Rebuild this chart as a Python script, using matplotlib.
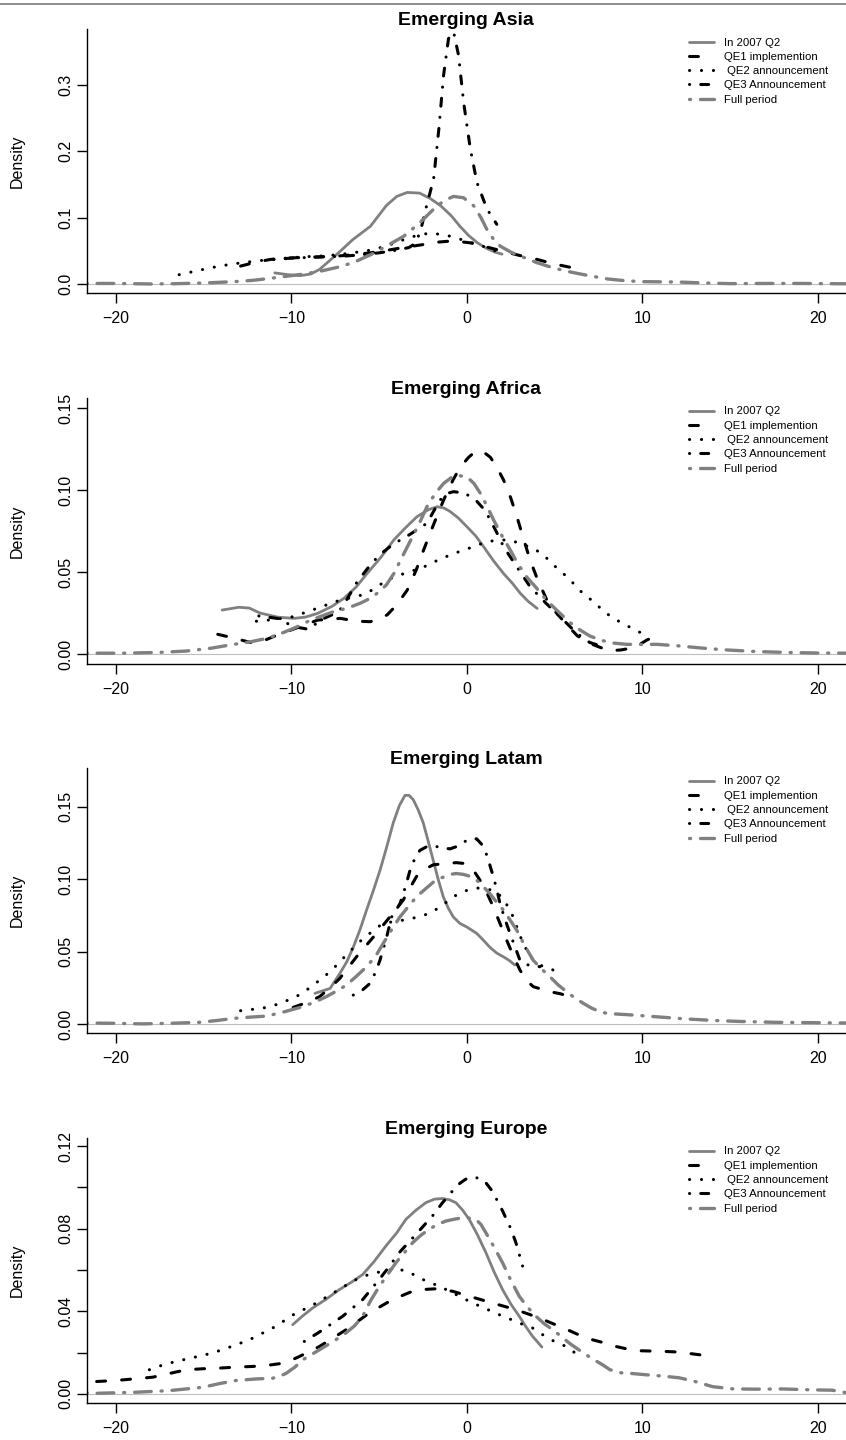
import matplotlib
matplotlib.use("Agg")
import matplotlib.pyplot as plt
from matplotlib.lines import Line2D

plt.rcParams["font.family"] = ["Liberation Sans", "DejaVu Sans"]
plt.rcParams["lines.scale_dashes"] = False

series_names = ["In 2007 Q2", "QE1 implemention", " QE2 announcement",
                "QE3 Announcement", "Full period"]

# --- Emerging Asia (x, density) ---
asia_q2 = [(-10.95, 0.0167), (-10.2, 0.0140), (-9.5, 0.0126), (-8.9, 0.0150), (-8.4, 0.022),
           (-7.4, 0.045), (-6.5, 0.067), (-5.5, 0.087), (-4.6, 0.118), (-4.0, 0.132),
           (-3.4, 0.138), (-2.7, 0.137), (-2.1, 0.129), (-1.5, 0.118), (-0.9, 0.103),
           (-0.4, 0.087), (0.1, 0.073), (0.6, 0.062), (1.1, 0.054), (1.6, 0.048), (2.0, 0.045)]
asia_qe1 = [(-12.9, 0.027), (-12.0, 0.033), (-11.2, 0.037), (-10.3, 0.039), (-9.3, 0.040),
            (-8.4, 0.041), (-7.4, 0.042), (-6.5, 0.044), (-5.5, 0.047), (-4.5, 0.051),
            (-3.6, 0.055), (-2.6, 0.059), (-1.7, 0.063), (-0.8, 0.065), (0.2, 0.062),
            (1.1, 0.056), (2.1, 0.049), (3.0, 0.043), (4.0, 0.037), (5.0, 0.030), (6.1, 0.024)]
asia_qe2 = [(-16.4, 0.014), (-15.2, 0.021), (-14.1, 0.027), (-13.1, 0.031), (-12.2, 0.034),
            (-11.2, 0.037), (-10.3, 0.039), (-9.3, 0.041), (-8.4, 0.042), (-7.4, 0.044),
            (-6.5, 0.047), (-5.5, 0.051), (-4.6, 0.057), (-3.8, 0.065), (-3.0, 0.072),
            (-2.1, 0.077), (-1.1, 0.073), (-0.2, 0.066), (0.9, 0.057), (1.9, 0.047)]
asia_qe3 = [(-11.0, 0.037), (-10.0, 0.039), (-9.0, 0.040), (-8.0, 0.041), (-7.0, 0.042),
            (-6.0, 0.044), (-5.0, 0.047), (-4.0, 0.051), (-3.3, 0.055), (-2.9, 0.062),
            (-2.6, 0.085), (-2.3, 0.118), (-1.9, 0.158), (-1.6, 0.234), (-1.33, 0.315),
            (-1.05, 0.370), (-0.76, 0.380), (-0.48, 0.345), (-0.19, 0.274), (0.19, 0.204),
            (0.57, 0.153), (1.14, 0.113), (1.7, 0.090)]
asia_full = [(-21.7, 0.0008), (-20.0, 0.0008), (-18.0, 0.0), (-16.5, 0.0005), (-15.0, 0.0015),
             (-14.1, 0.0025), (-13.1, 0.0038), (-12.2, 0.0055), (-11.2, 0.0085), (-10.3, 0.0116),
             (-9.3, 0.015), (-8.4, 0.019), (-7.4, 0.025), (-6.5, 0.032), (-5.5, 0.044),
             (-4.6, 0.057), (-3.6, 0.072), (-2.7, 0.092), (-1.7, 0.118), (-1.2, 0.127),
             (-0.76, 0.132), (-0.2, 0.130), (0.38, 0.118), (0.8, 0.100), (1.14, 0.082),
             (1.5, 0.068), (1.9, 0.057), (2.5, 0.048), (3.05, 0.042), (4.0, 0.032),
             (4.95, 0.024), (5.9, 0.018), (6.86, 0.013), (8.0, 0.0076), (9.0, 0.0050),
             (10.0, 0.0035), (12.0, 0.0030), (13.5, 0.0015), (15.0, 0.0005), (17.0, 0.0008),
             (19.0, 0.0008), (21.6, 0.0003)]

# --- Emerging Africa ---
africa_q2 = [(-13.95, 0.0268), (-13.0, 0.0285), (-12.4, 0.028), (-11.8, 0.025), (-10.8, 0.0225),
             (-9.87, 0.0217), (-9.2, 0.0225), (-8.5, 0.0248), (-7.7, 0.029), (-7.0, 0.034),
             (-6.3, 0.041), (-5.7, 0.049), (-4.9, 0.059), (-4.17, 0.0695), (-3.5, 0.077),
             (-2.85, 0.0837), (-2.2, 0.088), (-1.7, 0.0898), (-1.3, 0.089), (-0.95, 0.0868),
             (-0.5, 0.083), (0.0, 0.0776), (0.5, 0.072), (0.95, 0.0654), (1.5, 0.057),
             (2.09, 0.049), (2.6, 0.043), (3.04, 0.037), (3.5, 0.032), (4.0, 0.0278)]
africa_qe1 = [(-14.2, 0.012), (-13.2, 0.0095), (-12.3, 0.0069), (-11.5, 0.0085), (-10.8, 0.0116),
              (-9.5, 0.0167), (-8.5, 0.0207), (-7.2, 0.0217), (-6.3, 0.020), (-5.5, 0.0197),
              (-4.55, 0.0238), (-4.0, 0.030), (-3.4, 0.039), (-2.9, 0.051), (-2.47, 0.0634),
              (-1.9, 0.079), (-1.33, 0.0939), (-0.8, 0.106), (-0.38, 0.114), (0.1, 0.120),
              (0.47, 0.1234), (0.9, 0.1235), (1.33, 0.120), (1.7, 0.114), (2.09, 0.106),
              (2.5, 0.095), (2.85, 0.0837), (3.2, 0.071), (3.6, 0.0573), (4.0, 0.046),
              (4.55, 0.033), (5.1, 0.025), (5.7, 0.0177), (6.3, 0.011), (7.0, 0.0065),
              (7.6, 0.004), (8.16, 0.002), (8.8, 0.0025), (9.3, 0.0035), (9.8, 0.0055),
              (10.25, 0.0085), (11.05, 0.0125)]
africa_qe2 = [(-12.0, 0.020), (-11.0, 0.021), (-9.87, 0.0228), (-9.3, 0.025), (-8.5, 0.028),
              (-7.2, 0.033), (-6.3, 0.035), (-5.7, 0.037), (-5.0, 0.042), (-4.17, 0.047),
              (-3.3, 0.050), (-2.47, 0.053), (-1.7, 0.057), (-1.04, 0.060), (-0.3, 0.063),
              (0.38, 0.0654), (1.0, 0.068), (1.7, 0.0695), (2.47, 0.0695), (3.1, 0.067),
              (3.8, 0.0644), (4.4, 0.060), (4.93, 0.0543), (5.5, 0.049), (6.07, 0.043),
              (6.6, 0.037), (7.2, 0.032), (7.8, 0.026), (8.35, 0.0217), (9.0, 0.018),
              (9.58, 0.0146), (9.9, 0.013)]
africa_qe3 = [(-11.86, 0.0232), (-10.8, 0.0217), (-9.87, 0.0167), (-9.0, 0.015), (-8.35, 0.0207),
              (-7.3, 0.0258), (-6.8, 0.034), (-6.26, 0.044), (-5.6, 0.053), (-5.03, 0.060),
              (-4.2, 0.067), (-3.3, 0.0726), (-2.8, 0.076), (-2.28, 0.0797), (-1.9, 0.087),
              (-1.52, 0.094), (-1.1, 0.098), (-0.76, 0.099), (-0.1, 0.098), (0.57, 0.093),
              (1.0, 0.088), (1.33, 0.0817), (1.7, 0.074), (2.09, 0.0654), (2.85, 0.053),
              (3.6, 0.041), (4.5, 0.031), (5.3, 0.0228), (6.26, 0.0126), (7.0, 0.007),
              (7.6, 0.005)]
africa_full = [(-21.7, 0.0005), (-19.5, 0.0005), (-17.5, 0.001), (-16.0, 0.0018), (-14.6, 0.0035),
               (-13.5, 0.0055), (-12.3, 0.0075), (-11.5, 0.0093), (-10.8, 0.0116), (-9.8, 0.016),
               (-8.9, 0.0207), (-7.6, 0.0258), (-6.8, 0.028), (-6.07, 0.031), (-5.5, 0.034),
               (-5.12, 0.037), (-4.6, 0.042), (-4.17, 0.049), (-3.7, 0.059), (-3.2, 0.0695),
               (-2.7, 0.080), (-2.28, 0.0898), (-1.8, 0.098), (-1.33, 0.104), (-0.9, 0.1075),
               (-0.57, 0.109), (0.0, 0.108), (0.4, 0.104), (0.76, 0.098), (1.15, 0.090),
               (1.52, 0.0817), (2.0, 0.072), (2.47, 0.0634), (2.9, 0.055), (3.4, 0.047),
               (3.9, 0.041), (4.36, 0.035), (4.8, 0.030), (5.3, 0.0248), (5.9, 0.019),
               (6.45, 0.0146), (7.0, 0.011), (7.6, 0.0085), (8.3, 0.0067), (9.1, 0.0059),
               (10.0, 0.0058), (10.8, 0.0059), (12.0, 0.005), (13.5, 0.0035), (14.9, 0.0024),
               (16.5, 0.0015), (18.0, 0.001), (20.0, 0.0006), (21.6, 0.0005)]

# --- Emerging Latam ---
latam_q2 = [(-8.66, 0.0212), (-7.8, 0.0246), (-7.24, 0.035), (-6.85, 0.043), (-6.48, 0.053),
            (-6.1, 0.065), (-5.72, 0.0788), (-5.34, 0.092), (-4.96, 0.106), (-4.58, 0.122),
            (-4.2, 0.139), (-3.85, 0.151), (-3.53, 0.158), (-3.3, 0.158), (-3.06, 0.155),
            (-2.78, 0.148), (-2.49, 0.139), (-2.2, 0.126), (-1.92, 0.113), (-1.64, 0.100),
            (-1.35, 0.088), (-1.06, 0.080), (-0.78, 0.074), (-0.4, 0.0695), (0.0, 0.067),
            (0.55, 0.0627), (0.93, 0.058), (1.31, 0.053), (1.7, 0.049), (2.07, 0.0465),
            (2.4, 0.044), (2.73, 0.0408)]
latam_qe1 = [(-9.9, 0.0115), (-9.1, 0.015), (-8.4, 0.0189), (-7.8, 0.025), (-7.24, 0.0316),
             (-6.29, 0.0465), (-5.34, 0.060), (-4.39, 0.074), (-3.63, 0.0857), (-3.25, 0.094),
             (-2.87, 0.102), (-2.4, 0.107), (-1.92, 0.110), (-1.16, 0.111), (-0.6, 0.1115),
             (-0.21, 0.111), (0.36, 0.1064), (0.93, 0.096), (1.5, 0.081), (1.9, 0.069),
             (2.26, 0.058), (2.65, 0.047), (3.02, 0.0373), (3.4, 0.030), (3.78, 0.0258),
             (4.73, 0.0223), (5.3, 0.021), (5.87, 0.0189), (6.2, 0.018)]
latam_qe2 = [(-12.9, 0.0092), (-12.1, 0.0103), (-11.4, 0.0115), (-10.7, 0.014), (-10.1, 0.017),
             (-9.4, 0.021), (-8.76, 0.027), (-8.2, 0.032), (-7.6, 0.0385), (-6.85, 0.048),
             (-6.1, 0.057), (-5.5, 0.063), (-4.96, 0.068), (-4.2, 0.071), (-3.44, 0.072),
             (-2.8, 0.074), (-2.1, 0.0765), (-1.4, 0.082), (-0.78, 0.088), (-0.1, 0.092),
             (0.55, 0.094), (1.1, 0.0935), (1.69, 0.0915), (2.2, 0.084), (2.64, 0.074),
             (2.9, 0.065), (3.2, 0.0557), (3.5, 0.049), (3.78, 0.044), (4.35, 0.0396),
             (4.92, 0.0373)]
latam_qe3 = [(-6.48, 0.020), (-6.0, 0.023), (-5.53, 0.028), (-5.2, 0.036), (-4.96, 0.044),
             (-4.6, 0.059), (-4.29, 0.074), (-3.82, 0.083), (-3.5, 0.095), (-3.25, 0.106),
             (-2.95, 0.115), (-2.68, 0.120), (-2.3, 0.1225), (-1.92, 0.123), (-1.45, 0.122),
             (-0.97, 0.121), (-0.5, 0.123), (0.0, 0.127), (0.55, 0.128), (0.85, 0.124),
             (1.12, 0.117), (1.3, 0.110), (1.5, 0.102), (1.7, 0.093), (1.88, 0.0834),
             (2.15, 0.073), (2.45, 0.0627), (2.75, 0.053), (3.02, 0.044), (3.3, 0.041),
             (3.59, 0.0408), (4.16, 0.0396)]
latam_full = [(-21.7, 0.0007), (-20.0, 0.0005), (-18.5, 0.0001), (-17.0, 0.0005), (-15.2, 0.0012),
              (-14.2, 0.0025), (-13.3, 0.0039), (-12.3, 0.0048), (-11.4, 0.0055), (-10.4, 0.0085),
              (-9.5, 0.0115), (-8.7, 0.015), (-8.0, 0.019), (-7.4, 0.023), (-6.86, 0.027),
              (-6.3, 0.033), (-5.72, 0.0396), (-5.2, 0.047), (-4.77, 0.0557), (-4.3, 0.065),
              (-3.82, 0.074), (-3.35, 0.081), (-2.87, 0.088), (-2.4, 0.093), (-1.92, 0.098),
              (-1.45, 0.101), (-0.97, 0.1034), (-0.6, 0.104), (-0.21, 0.1034), (0.2, 0.102),
              (0.55, 0.0995), (0.93, 0.095), (1.31, 0.090), (1.7, 0.084), (2.07, 0.0788),
              (2.45, 0.072), (2.83, 0.065), (3.3, 0.054), (3.78, 0.044), (4.25, 0.038),
              (4.73, 0.0327), (5.2, 0.027), (5.68, 0.0223), (6.15, 0.018), (6.63, 0.0143),
              (7.1, 0.011), (7.58, 0.0085), (8.0, 0.0073), (8.53, 0.0069), (9.48, 0.0062),
              (10.8, 0.005), (12.5, 0.0035), (14.0, 0.0025), (15.5, 0.0018), (17.5, 0.0012),
              (20.0, 0.0009), (21.6, 0.0007)]

# --- Emerging Europe ---
europe_q2 = [(-9.93, 0.0335), (-9.4, 0.0375), (-8.79, 0.0416), (-8.0, 0.046), (-7.27, 0.0505),
             (-6.6, 0.054), (-5.94, 0.0578), (-5.3, 0.064), (-4.62, 0.0716), (-4.0, 0.078),
             (-3.48, 0.0845), (-2.9, 0.089), (-2.34, 0.0926), (-1.85, 0.0943), (-1.39, 0.0946),
             (-1.0, 0.094), (-0.63, 0.0926), (-0.25, 0.089), (0.13, 0.0845), (0.6, 0.077),
             (1.08, 0.0684), (1.55, 0.059), (2.03, 0.0505), (2.5, 0.0435), (2.98, 0.0376),
             (3.36, 0.0325), (3.74, 0.0279), (4.27, 0.0227)]
europe_qe1 = [(-21.1, 0.006), (-20.0, 0.0065), (-19.2, 0.0071), (-17.9, 0.0081), (-17.0, 0.0098),
              (-16.0, 0.0117), (-15.0, 0.0122), (-14.1, 0.0125), (-13.1, 0.013), (-12.2, 0.0133),
              (-11.4, 0.0138), (-10.7, 0.0146), (-10.1, 0.016), (-9.55, 0.0181), (-8.4, 0.023),
              (-6.9, 0.031), (-5.56, 0.0392), (-4.24, 0.0457), (-3.1, 0.0497), (-2.4, 0.0506),
              (-1.77, 0.0509), (-0.82, 0.0497), (0.13, 0.0473), (1.46, 0.044), (2.79, 0.0408),
              (4.12, 0.0368), (4.9, 0.034), (5.64, 0.0314), (6.4, 0.0285), (7.16, 0.0262),
              (7.7, 0.025), (8.15, 0.0236), (9.0, 0.022), (9.83, 0.0209), (11.15, 0.0206),
              (12.0, 0.0203), (12.65, 0.0196), (13.4, 0.0188), (13.97, 0.018)]
europe_qe2 = [(-18.1, 0.0117), (-17.4, 0.0138), (-16.6, 0.0157), (-15.5, 0.0178), (-14.5, 0.0198),
              (-13.4, 0.023), (-12.4, 0.0262), (-11.07, 0.0319), (-10.4, 0.0355), (-9.74, 0.0392),
              (-9.0, 0.042), (-8.4, 0.0449), (-7.4, 0.050), (-6.5, 0.0546), (-5.9, 0.057),
              (-5.2, 0.0586), (-4.5, 0.060), (-3.86, 0.0603), (-3.3, 0.059), (-2.72, 0.0562),
              (-2.15, 0.054), (-1.58, 0.0522), (-0.6, 0.048), (0.32, 0.044), (0.99, 0.0416),
              (1.65, 0.039), (2.3, 0.0368), (2.98, 0.0343), (3.74, 0.0319), (4.31, 0.0287),
              (4.98, 0.0254), (5.64, 0.023), (6.3, 0.019)]
europe_qe3 = [(-9.27, 0.0254), (-8.4, 0.030), (-7.08, 0.0376), (-5.94, 0.0457), (-5.0, 0.0554),
              (-4.4, 0.062), (-3.86, 0.0684), (-2.9, 0.0773), (-1.96, 0.0862), (-1.39, 0.0926),
              (-0.82, 0.0983), (-0.4, 0.102), (-0.06, 0.104), (0.51, 0.1048), (0.99, 0.1032),
              (1.46, 0.098), (2.03, 0.0886), (2.5, 0.080), (2.79, 0.0732), (3.17, 0.0619)]
europe_full = [(-21.7, 0.0005), (-21.1, 0.0003), (-18.9, 0.0008), (-16.96, 0.0016), (-15.06, 0.0032),
               (-14.1, 0.005), (-13.16, 0.0065), (-12.1, 0.0072), (-11.07, 0.0076), (-10.6, 0.0088),
               (-10.3, 0.010), (-9.8, 0.013), (-9.36, 0.0165), (-8.4, 0.0214), (-7.6, 0.0255),
               (-6.9, 0.0295), (-6.4, 0.033), (-5.94, 0.0376), (-5.5, 0.045), (-5.0, 0.052),
               (-4.5, 0.058), (-4.05, 0.0635), (-3.6, 0.068), (-3.1, 0.0732), (-2.6, 0.077),
               (-2.15, 0.0797), (-1.7, 0.082), (-1.2, 0.0837), (-0.6, 0.0848), (-0.06, 0.0854),
               (0.51, 0.0845), (0.8, 0.082), (1.08, 0.078), (1.55, 0.071), (2.03, 0.0635),
               (2.5, 0.055), (2.98, 0.0473), (3.45, 0.042), (3.93, 0.0376), (4.4, 0.034),
               (4.88, 0.0311), (5.35, 0.028), (5.83, 0.0246), (6.3, 0.0218), (6.78, 0.019),
               (7.25, 0.0165), (7.73, 0.0141), (8.15, 0.0117), (8.8, 0.0102), (9.5, 0.0098),
               (10.3, 0.0092), (11.2, 0.0086), (12.1, 0.0078), (13.0, 0.006), (14.0, 0.0035),
               (15.2, 0.0024), (16.5, 0.0023), (18.0, 0.0024), (19.5, 0.002), (20.8, 0.0018),
               (21.6, 0.0006)]

titles = ["Emerging Asia", "Emerging Africa", "Emerging Latam", "Emerging Europe"]
panel_series = [
    [asia_q2, asia_qe1, asia_qe2, asia_qe3, asia_full],
    [africa_q2, africa_qe1, africa_qe2, africa_qe3, africa_full],
    [latam_q2, latam_qe1, latam_qe2, latam_qe3, latam_full],
    [europe_q2, europe_qe1, europe_qe2, europe_qe3, europe_full],
]
y_ticks = [
    [0.0, 0.1, 0.2, 0.3],
    [0.0, 0.05, 0.10, 0.15],
    [0.0, 0.05, 0.10, 0.15],
    [0.0, 0.02, 0.04, 0.06, 0.08, 0.10, 0.12],
]
y_tick_labels = [
    ["0.0", "0.1", "0.2", "0.3"],
    ["0.00", "0.05", "0.10", "0.15"],
    ["0.00", "0.05", "0.10", "0.15"],
    ["0.00", "", "0.04", "", "0.08", "", "0.12"],
]
x_ticks = [-20, -10, 0, 10, 20]

# layout measured in pixels of the 846x1440 picture
y_limits = [(-0.0136, 0.3844), (-0.0061, 0.1561), (-0.0062, 0.1769), (-0.0044, 0.1239)]
axes_rows = [(29, 293), (398, 664), (768, 1033), (1138, 1403)]

styles = [
    dict(color="#808080", lw=2.0, ls="-", solid_capstyle="round"),
    dict(color="black", lw=2.2, ls=(0, (6.4, 11.6)), dash_capstyle="round"),
    dict(color="black", lw=2.2, ls=(0, (0.1, 8.5)), dash_capstyle="round"),
    dict(color="black", lw=2.2, ls=(0, (0.1, 8.0, 5.7, 8.0)), dash_capstyle="round"),
    dict(color="#808080", lw=2.4, ls=(0, (0.8, 7.1, 12.0, 7.1)), dash_capstyle="round"),
]

W, H = 846, 1440
fig = plt.figure(figsize=(W / 100, H / 100), dpi=100)
fig.add_artist(Line2D([0, 1], [1 - 3.5 / H] * 2, transform=fig.transFigure,
                      color="#7a7a7a", lw=1.2))

left_px = 86.5
for i, title in enumerate(titles):
    top_px, bot_px = axes_rows[i]
    ax = fig.add_axes([left_px / W, 1 - bot_px / H, 1 - left_px / W, (bot_px - top_px) / H])
    ax.axhline(0, color="#bebebe", lw=0.8, zorder=1)
    for pts, name, st in zip(panel_series[i], series_names, styles):
        xs = [p[0] for p in pts]
        ys = [p[1] for p in pts]
        ax.plot(xs, ys, label=name, zorder=2, **st)

    ax.set_xlim(-21.68, 21.6)
    ax.set_ylim(*y_limits[i])
    ax.set_xticks(x_ticks)
    ax.set_yticks(y_ticks[i])
    ax.set_yticklabels(y_tick_labels[i], rotation=90, va="center")
    for side in ["top", "right"]:
        ax.spines[side].set_visible(False)
    for side in ["left", "bottom"]:
        ax.spines[side].set_linewidth(1.0)
    ax.tick_params(axis="both", direction="out", length=7, width=1.0, labelsize=11.5)
    ax.tick_params(axis="x", pad=6)
    ax.tick_params(axis="y", pad=2.2)

    ax.set_title(title, fontsize=14, fontweight="bold", pad=1.5)
    ax.set_ylabel("Density", fontsize=11.5)
    ax.yaxis.set_label_coords(-0.081, 0.5)

    ax.legend(loc="upper left", bbox_to_anchor=(0.7933, 1 - 8.5 / (bot_px - top_px)),
              frameon=False, fontsize=8.2, handlelength=2.2, handletextpad=0.85,
              labelspacing=0.38, borderpad=0, borderaxespad=0)

fig.savefig("out.png", dpi=100)
